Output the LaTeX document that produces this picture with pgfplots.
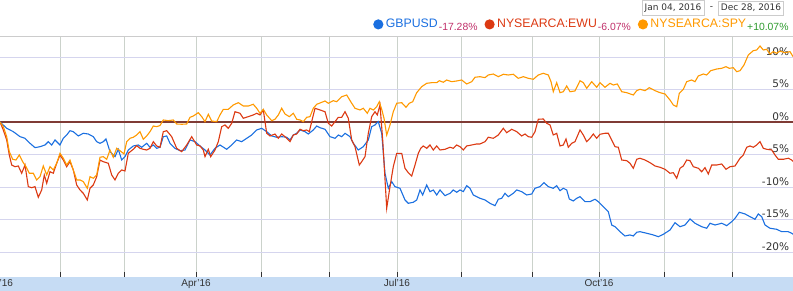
\documentclass[border=0pt]{standalone}
\usepackage{fontspec}
\setmainfont{Liberation Sans}
\newfontfamily\dejavu{DejaVu Sans}
\usepackage{pgfplots}
\pgfplotsset{compat=1.18}
\usepackage{pgfplotstable}
\definecolor{cGBP}{HTML}{1A6FE0}
\definecolor{cEWU}{HTML}{DC3912}
\definecolor{cSPY}{HTML}{FF9900}
\definecolor{cNeg}{HTML}{C0306A}
\definecolor{cPos}{HTML}{2E9A2E}
\definecolor{zeroc}{HTML}{7F3B35}
\definecolor{hgrid}{HTML}{D5D5EE}
\definecolor{vgrid}{HTML}{CBD2CB}
\definecolor{band}{HTML}{C6DCF4}
\definecolor{boxgray}{HTML}{CCCCCC}
\definecolor{txt}{HTML}{333333}

\pgfplotstableread{
x y
0 0
6.7 -0.97
13.3 -1.49
20 -2.26
25 -2.51
30 -3.28
35 -3.95
40 -3.80
45 -3.54
48.3 -3.03
51.7 -3.54
55 -2.77
60 -3.54
63.3 -2.51
66.7 -2.00
70 -1.34
73.3 -1.49
78.3 -2.15
83.3 -1.74
88.3 -1.85
93.3 -2.26
96.7 -3.03
100 -3.28
103.3 -3.03
106 -2.62
110 -4.57
115 -5.34
118.3 -4.20
121.7 -5.85
125 -5.34
128.3 -4.31
133.3 -3.69
138.3 -3.54
141.7 -3.89
146.7 -3.28
150 -3.89
153.3 -3.54
156.7 -4.05
160 -3.89
163.3 -2.26
166.7 -2.15
170 -3.28
175 -4.05
180 -4.42
185 -4.31
190 -2.77
195 -3.03
200 -3.69
205 -4.31
210 -5.08
215 -4.05
220 -3.54
226.7 -4.20
231.7 -3.54
236.7 -2.77
241.7 -3.03
246.7 -2.51
251.7 -2.00
256.7 -1.23
261.7 -0.97
266.7 -1.49
271.7 -2.15
276.7 -2.35
281.7 -2.26
286.7 -2.35
290 -2.77
293.3 -2.00
296.7 -1.74
300 -1.23
305 -1.49
308.3 -1.85
313.3 -1.23
316.7 -0.62
320 -0.88
325 -1.12
330 -2.26
335 -2.51
338.3 -2.00
341.7 -2.26
345 -1.74
350 -2.26
353.3 -3.28
358.3 -4.31
363.3 -3.80
368.3 -2.77
371.7 -0.72
375 -0.46
378.3 0.05
381.7 -1.74
385 -7.89
388.3 -10.20
391.7 -9.18
395 -9.95
400 -10.20
405 -12.00
408.3 -12.51
413.3 -12.35
416.7 -12.00
420 -10.46
422.7 -11.23
426.7 -9.69
430 -10.72
433.3 -10.46
436.7 -11.23
440 -10.46
445 -11.34
450 -10.97
453.3 -10.46
456.7 -10.82
460 -10.46
463.3 -10.72
466.7 -9.80
470 -10.20
473.3 -11.23
480 -11.74
485 -12.00
490 -12.51
495 -12.88
498.3 -11.89
501.7 -11.74
505 -10.97
508.3 -11.49
513.3 -10.97
516.7 -10.46
521.7 -10.72
526.7 -11.23
531.7 -11.08
535 -10.20
540 -9.95
544 -9.34
548.3 -9.95
553.3 -10.20
556.7 -9.80
560 -10.57
563.3 -10.20
566.7 -10.46
569.3 -11.85
573.3 -12.15
576.7 -11.74
580 -11.49
585 -12.26
590 -12.26
595 -11.89
598.3 -12.26
603.3 -13.03
608.3 -13.80
611.7 -15.85
615 -16.11
620 -16.88
625 -17.54
630 -17.38
633.3 -17.54
636.7 -16.97
640 -16.88
646.7 -17.12
653.3 -17.38
658.3 -17.65
663.3 -17.28
670 -16.62
675 -15.49
680 -16.11
685 -15.85
690 -14.92
695 -15.58
701.7 -16.11
706.7 -16.35
710 -15.58
715 -15.85
721.7 -15.58
726.7 -15.95
731.7 -15.34
735 -14.82
739.3 -13.89
745 -14.15
750 -14.57
755 -14.97
758.3 -14.15
761.7 -14.57
765 -15.85
770 -16.35
776.7 -16.51
781.7 -16.88
788.3 -16.88
791.7 -17.12
793 -17.28
}\gbpusd

\pgfplotstableread{
x y
0 0
3.3 -1.23
6.7 -2.77
9.3 -5.08
11.7 -6.62
15 -6.88
18.3 -6.77
21.7 -7.89
25 -6.62
28.3 -9.95
31.7 -10.11
35 -9.95
38.3 -11.58
41.7 -10.46
44.3 -8.15
46.7 -9.43
50 -7.65
53.3 -7.89
56.7 -6.35
60 -5.08
63.3 -5.85
66.7 -6.88
70 -6.11
73.3 -7.38
76.7 -9.69
80 -10.46
83.3 -10.97
87.3 -12.00
90 -10.20
93.3 -9.69
96.7 -8.42
100 -5.85
103.3 -6.11
108.3 -6.35
111.7 -8.15
115 -8.92
118.3 -7.89
121.7 -7.38
125 -7.54
128.3 -4.82
133.3 -4.20
136.7 -3.65
140 -4.05
143.3 -4.20
146.7 -4.31
150 -4.05
153.3 -3.03
156.7 -3.69
160 -3.89
163.3 -1.49
166.7 -1.34
171.7 -2.26
176.7 -4.05
181.7 -4.57
186.7 -3.54
191.7 -2.26
196.7 -3.54
200 -3.69
203.3 -4.31
205 -5.34
208.3 -4.20
210.7 -5.34
215 -4.31
218.3 -3.03
221.7 -0.72
225 -0.46
228.3 -0.97
231.7 -0.20
235 1.58
240 1.34
243.3 0.57
248.3 0.82
253.3 1.08
256.7 1.34
260 1.08
263.3 1.85
266.7 -1.74
270 -2.15
275 -1.85
278.3 -2.51
281.7 -1.85
285 -2.26
290 -3.03
293.3 -2.00
296.7 -1.85
300 -1.12
303.3 -1.34
306.7 -1.23
309.3 -1.49
311.7 0.05
315 2.11
320 1.85
325 1.58
328.3 -0.20
331.7 -0.62
335 0.05
338.3 0.72
341.7 0.72
345 1.58
348.3 0.57
351.7 -2.77
355 -3.80
359.3 -6.62
361.7 -6.11
365 -5.34
368.3 -1.74
371.7 0.82
375 1.58
377.3 1.08
380 2.62
382.7 -2.77
386.7 -13.28
390 -9.95
393.3 -6.88
396.7 -4.82
401.7 -4.82
405 -7.12
408.3 -7.80
411.7 -8.31
415 -6.62
418.3 -4.82
420.7 -4.05
423.3 -3.69
426.7 -4.05
430 -3.54
433.3 -4.31
436.7 -3.69
440 -4.31
445 -4.20
450 -3.89
453.3 -4.05
456.7 -3.54
460 -3.80
463.3 -4.31
466.7 -3.69
471.7 -3.54
476.7 -3.38
480 -3.38
485 -3.03
488.3 -2.35
493.3 -2.51
498.3 -2.00
503.3 -0.97
506.7 -1.65
511.7 -1.12
516.7 -1.49
521.7 -2.15
525 -1.85
528.3 -2.26
531.7 -2.35
535 -1.49
538.3 0.42
543.3 0.46
546.7 -0.20
550 -0.46
553.3 -2.00
556.7 -1.74
560 -3.69
563.3 -3.54
566 -2.62
568.3 -3.89
571.7 -3.28
575 -3.03
580 -1.23
583.3 -2.00
586.7 -3.03
590 -2.51
593.3 -1.85
596.7 -2.51
600 -1.89
605 -1.74
608.3 -1.74
611.7 -2.77
615 -3.80
618.3 -3.89
621.7 -5.85
626.7 -5.95
630 -6.35
633.3 -7.12
636.7 -5.74
640 -5.58
645 -5.85
650 -6.26
655 -6.77
660 -6.97
665 -7.28
670 -7.89
673.3 -7.80
676.7 -8.66
680 -7.12
683.3 -6.77
686.7 -5.85
690 -5.95
693.3 -6.88
698.3 -7.12
701.7 -7.65
705 -7.03
708.3 -8.00
711.7 -6.62
716.7 -6.62
721.7 -6.46
726 -7.28
730 -6.88
735 -6.77
740 -5.58
743.3 -5.08
746.7 -3.89
750 -3.69
753.3 -3.89
756.7 -3.54
760 -3.03
763.3 -4.05
766.7 -4.20
771.7 -4.31
775 -5.08
778.3 -5.74
783.3 -5.74
788.3 -5.58
791.7 -5.85
793 -6.07
}\ewu

\pgfplotstableread{
x y
0 0
3.3 -0.72
6.7 -2.26
9.3 -4.57
12.7 -5.74
16 -5.85
19.3 -5.08
22.7 -6.11
26 -6.88
29.3 -7.89
33.3 -7.89
36.7 -8.92
40 -8.42
43.3 -6.77
46.7 -8.15
50 -6.88
53.3 -7.38
56.7 -6.35
60 -4.82
63.3 -5.58
66.7 -6.62
70 -5.85
73.3 -7.38
76.7 -8.92
80 -8.92
83.3 -9.18
87.3 -10.20
90 -8.42
93.3 -8.66
96.7 -8.15
100 -5.43
103.3 -5.34
106.7 -5.74
110 -4.31
113.3 -5.43
116.7 -4.05
120 -4.42
124 -4.92
126.7 -3.03
130 -2.51
133.3 -2.35
136.7 -2.00
140 -1.49
143.3 -2.66
146.7 -2.15
150 -1.49
153.3 -0.62
156.7 -0.72
160 -0.54
163.3 0.31
168.3 0.20
173.3 0.31
176.7 -0.31
181.7 -0.35
186.7 -0.31
190 0.72
193.3 0.92
198.3 1.43
201.7 0.82
205 0.05
208.3 1.18
211.7 0.15
216.7 0.05
220 1.08
223.3 1.95
228.3 1.95
233.3 2.62
238.3 2.97
243.3 2.46
248.3 2.46
253.3 2.72
256.7 2.11
260 1.34
263.3 1.95
266.7 1.08
271.7 0.20
275 0.42
278.3 1.08
281.7 2.11
285 1.23
289.3 0.82
293.3 1.34
296.7 0.42
300 0.31
303.3 0.05
306.7 0.72
310 0.82
313.3 2.11
316.7 2.72
320 2.92
325 3.23
328.3 2.88
333.3 3.28
336.7 3.12
341.7 3.89
346.7 4.15
351.7 2.88
355 2.11
360 1.85
363.3 2.11
367.3 1.34
370 2.11
373.3 1.85
376.7 2.35
379.3 3.12
381.7 1.95
384 0.57
386.7 -2.00
390 -0.46
393.3 1.58
396.7 2.88
401.7 2.97
406 2.26
409.3 2.88
412.7 3.12
416.7 4.51
421.7 5.43
426.7 5.95
431.7 6.05
436.7 6.05
439.3 6.35
443.3 6.11
446.7 6.46
451.7 6.20
456.7 6.31
461.7 6.46
466.7 5.85
471.7 6.20
475 6.88
480 6.97
485 6.82
488.3 7.23
493.3 7.38
498.3 6.97
503.3 7.34
508.3 7.23
513.3 7.34
518.3 6.72
523.3 6.97
528.3 6.72
533.3 6.57
538.3 7.23
543.3 7.49
548.3 7.23
551 6.20
553.3 4.66
556.7 6.05
560 4.51
563.3 4.66
566.7 5.54
570 4.66
575 4.77
580 6.35
583.3 6.05
586.7 5.18
591.7 6.20
596.7 5.34
600 6.05
605 5.34
610 5.95
613.3 5.69
617.3 5.85
621.7 4.66
626.7 4.51
633.3 4.15
636.7 4.82
640 5.03
645 4.82
649.3 5.28
655 4.82
660 4.51
665 4.31
670 3.38
673.3 2.62
676.7 2.35
679.3 4.42
683.3 5.03
686.7 6.20
691.7 6.46
695 6.20
698.3 7.08
703.3 7.38
706.7 7.23
710.7 7.89
716.7 8.15
721.7 8.26
726 8.51
729.3 8.26
733.3 8.35
736.7 7.74
740 7.89
744 8.77
748.3 10.31
753.3 10.97
756.7 11.08
760 11.69
763.3 11.08
766.7 11.18
770 10.46
773.3 10.82
776.7 10.57
780 10.92
785 10.66
790 10.82
793 10.07
}\spy

\begin{document}
\begin{tikzpicture}
\useasboundingbox (0,0) rectangle (793pt,291pt);
\fill[band] (0,0) rectangle (793pt,14pt);
\begin{axis}[
  at={(0pt,14pt)}, anchor=south west,
  scale only axis, width=793pt, height=241pt,
  xmin=0, xmax=793, ymin=-23.85, ymax=13.23,
  axis line style={draw=none},
  xtick={60,124,196,261,329,397,461,532,599,664,732},
  xticklabels={,,Apr'16,,,Jul'16,,,Oct'16,,},
  xtick pos=bottom,
  tick align=inside,
  major tick length=5pt,
  xtick style={draw=txt, line width=0.8pt},
  xticklabel style={font=\fontsize{10}{12}\selectfont, text=txt, anchor=base, inner sep=0pt, yshift=-10pt},
  ytick={-20,-15,-10,-5,0,5,10},
  yticklabels={-20\%,-15\%,-10\%,-5\%,0\%,5\%,10\%},
  yticklabel pos=right,
  ytick style={draw=none},
  yticklabel style={font=\dejavu\fontsize{10.5}{12}\selectfont, text=txt, anchor=base east, inner sep=0pt, xshift=-3.7pt, yshift=1.5pt},
  grid=major,
  x grid style={vgrid, line width=0.9pt},
  y grid style={hgrid, line width=0.9pt},
  legend columns=3,
  legend cell align=left,
  legend style={at={(0.4707,1)}, anchor=south west, yshift=4.5pt, draw=none, fill=none, inner sep=0pt, outer sep=0pt,
    font=\fontsize{12.3}{14}\selectfont,
    cells={anchor=base west, inner sep=0pt},
    /tikz/every even column/.append style={column sep=5pt},
    /tikz/every odd column/.append style={column sep=0.5pt}},
  legend image code/.code={\fill[#1] (4.5pt,3.6pt) circle (4.5pt);},
]
\addplot[zeroc, line width=1.2pt, forget plot] coordinates {(0,0) (793,0)};
\addplot[cGBP, line width=1.1pt] table[x=x,y=y] {\gbpusd};
\addlegendentry{\textcolor{cGBP}{GBPUSD}\hspace{1pt}\raisebox{-2.4pt}{\fontsize{10.4}{12}\selectfont\textcolor{cNeg}{-17.28\%}}}
\addplot[cEWU, line width=1.1pt] table[x=x,y=y] {\ewu};
\addlegendentry{\textcolor{cEWU}{NYSEARCA:EWU}\hspace{1pt}\raisebox{-2.4pt}{\fontsize{10.4}{12}\selectfont\textcolor{cNeg}{-6.07\%}}}
\addplot[cSPY, line width=1.1pt] table[x=x,y=y] {\spy};
\addlegendentry{\textcolor{cSPY}{NYSEARCA:SPY}\hspace{1pt}\raisebox{-2.4pt}{\fontsize{10.4}{12}\selectfont\textcolor{cPos}{+10.07\%}}}
\draw[boxgray, line width=0.8pt] (rel axis cs:0,1) -- (rel axis cs:1,1);
\end{axis}
\node[anchor=base, inner sep=0pt, font=\fontsize{10}{12}\selectfont, text=txt] at (-1.7pt,4pt) {Jan'16};
\node[draw=boxgray, font=\dejavu\fontsize{9}{10}\selectfont, text=txt, inner xsep=2.5pt, minimum height=13pt] at (673pt,283pt) {Jan 04, 2016};
\node[font=\dejavu\fontsize{9}{10}\selectfont, text=txt] at (711.5pt,283pt) {-};
\node[draw=boxgray, font=\dejavu\fontsize{9}{10}\selectfont, text=txt, inner xsep=2.5pt, minimum height=13pt] at (751pt,283pt) {Dec 28, 2016};
\end{tikzpicture}
\end{document}
